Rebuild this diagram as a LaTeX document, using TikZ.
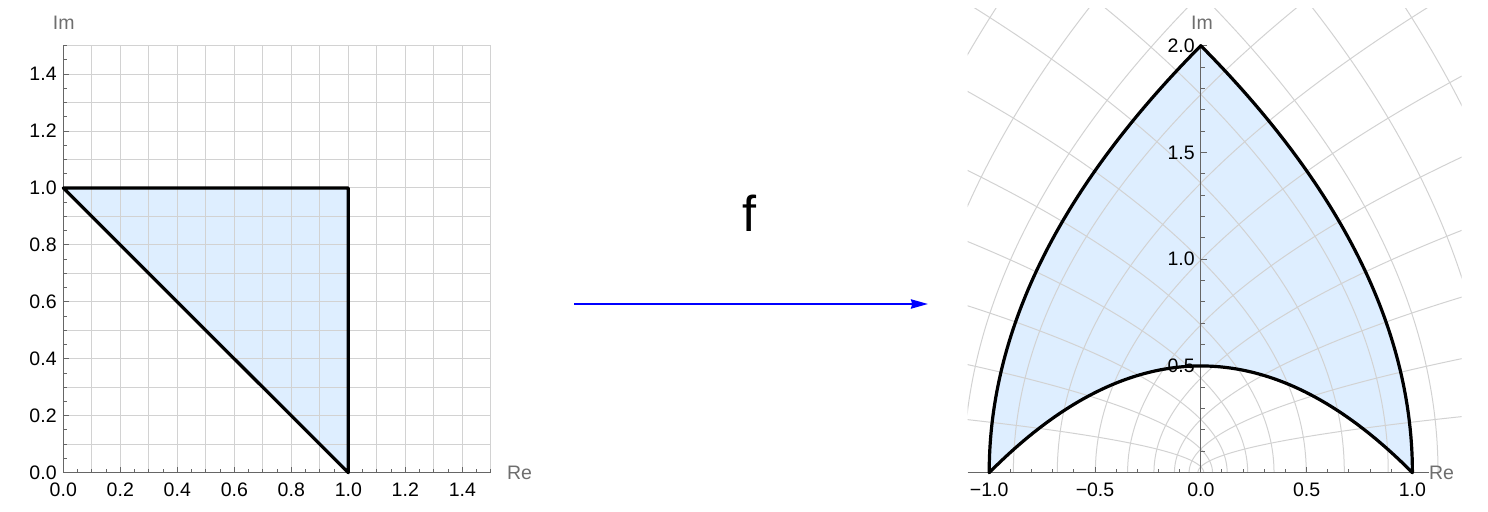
\documentclass[tikz,border=0pt]{standalone}
\usepackage{fontspec}
\setmainfont{Liberation Sans}
\usetikzlibrary{arrows.meta}
\definecolor{regfill}{RGB}{222,238,255}
\definecolor{gridgray}{RGB}{210,210,210}
\definecolor{axisgray}{RGB}{102,102,102}
\definecolor{lblgray}{RGB}{110,110,110}
\definecolor{arrowblue}{RGB}{0,0,255}
\begin{document}
\begin{tikzpicture}[x=0.5pt,y=-0.5pt,
  ticklbl/.style={font=\fontsize{9.75}{11}\selectfont, inner sep=0pt, text=black},
  axlbl/.style={font=\fontsize{9.75}{11}\selectfont, inner sep=0pt, text=lblgray},
  gridline/.style={draw=gridgray, line width=0.5pt},
  axisline/.style={draw=axisgray, line width=0.5pt},
  boundary/.style={draw=black, line width=1.6pt, line join=round},
  maparrow/.style={draw=arrowblue, line width=1pt, -{Stealth[length=8.5pt,width=4.6pt,inset=0.6pt]}},
]
\useasboundingbox (0,0) rectangle (1488,512);

% ---------------- left plot ----------------
\begin{scope}[shift={(63.3,472.7)}, x=142.5pt, y=142.35pt]
  \fill[regfill] (0,1) -- (1,1) -- (1,0) -- cycle;
  \foreach \i in {1,...,15} {
    \draw[gridline] (\i/10,0) -- (\i/10,1.5);
    \draw[gridline] (0,\i/10) -- (1.5,\i/10);
  }
  \draw[axisline] (0,0) -- (1.5,0);
  \draw[axisline] (0,0) -- (0,1.5);
  \foreach \k in {1,...,30} {
    \draw[axisline] (\k*0.05,0) -- ++(0,2pt);
    \draw[axisline] (0,\k*0.05) -- ++(2pt,0);
  }
  \foreach \k in {0,...,7} {
    \draw[axisline] (\k*0.2,0) -- ++(0,3pt);
    \draw[axisline] (0,\k*0.2) -- ++(3pt,0);
  }
  \foreach \v/\t in {0/0.0,0.2/0.2,0.4/0.4,0.6/0.6,0.8/0.8,1.0/1.0,1.2/1.2,1.4/1.4} {
    \node[ticklbl, anchor=center, yshift=-8.65pt] (lx\t) at (\v,0) {\t};
    \node[ticklbl, anchor=east, xshift=-3.15pt] (ly\t) at (0,\v) {\t};
  }
  \draw[boundary] (0,1) -- (1,1) -- (1,0) -- cycle;
\end{scope}
\node[axlbl] (imL) at (63.7,22.7) {Im};
\node[axlbl] (reL) at (519.5,472.5) {Re};

% ---------------- map arrow ----------------
\node[font=\fontsize{25.2}{30}\selectfont, inner sep=0pt, anchor=base] (flbl) at (749,232) {f};
\coordinate (arrS) at (574,304);
\coordinate (arrE) at (928,304);
\draw[maparrow] (arrS) -- (arrE);

% ---------------- right plot ----------------
\begin{scope}[shift={(1200.8,472.7)}, x=105.8pt, y=106.75pt]
  \fill[regfill]
    plot[domain=0:1, samples=60, variable=\q, smooth] ({\q*\q-1},{2*\q})
    -- plot[domain=1:0, samples=60, variable=\q, smooth] ({1-\q*\q},{2*\q})
    -- plot[domain=1:0, samples=60, variable=\q, smooth] ({2*\q-1},{2*\q*(1-\q)})
    -- cycle;
  \begin{scope}
    \clip (-1.102,0) rectangle (1.232,2.172);
    \foreach \k in {1,...,14} {
      \pgfmathsetmacro{\cc}{2*\k/17}
      \pgfmathsetmacro{\tmax}{min(sqrt(\cc*\cc+1.35),1.1/\cc)}
      \draw[gridline] plot[domain=0:\tmax, samples=90, variable=\q, smooth] ({\cc*\cc-\q*\q},{2*\cc*\q});
      \draw[gridline] plot[domain=0:\tmax, samples=90, variable=\q, smooth] ({\q*\q-\cc*\cc},{2*\cc*\q});
    }
  \end{scope}
  \draw[axisline] (-1.102,0) -- (1.08,0);
  \draw[axisline] (0,0) -- (0,2);
  \foreach \k in {-10,...,10} {
    \draw[axisline] (\k/10,0) -- ++(0,2pt);
  }
  \foreach \k in {1,...,20} {
    \draw[axisline] (0,\k/10) -- ++(2pt,0);
  }
  \foreach \k in {-2,...,2} {
    \draw[axisline] (\k*0.5,0) -- ++(0,3pt);
  }
  \foreach \k in {1,...,4} {
    \draw[axisline] (0,\k*0.5) -- ++(3pt,0);
  }
  \draw[boundary]
    plot[domain=0:1, samples=60, variable=\q, smooth] ({\q*\q-1},{2*\q})
    -- plot[domain=1:0, samples=60, variable=\q, smooth] ({1-\q*\q},{2*\q})
    -- plot[domain=1:0, samples=60, variable=\q, smooth] ({2*\q-1},{2*\q*(1-\q)})
    -- cycle;
  \foreach \v/\t/\n in {-1/−1.0/a,-0.5/−0.5/b,0/0.0/c,0.5/0.5/d,1/1.0/e} {
    \node[ticklbl, anchor=center, yshift=-8.65pt] (rx\n) at (\v,0) {\t};
  }
  \foreach \v/\t/\n in {0.5/0.5/a,1/1.0/b,1.5/1.5/c,2/2.0/d} {
    \node[ticklbl, anchor=east, xshift=-2.9pt] (ry\n) at (0,\v) {\t};
  }
\end{scope}
\node[axlbl] (imR) at (1202,22.7) {Im};
\node[axlbl] (reR) at (1441.5,473) {Re};
\end{tikzpicture}
\end{document}
